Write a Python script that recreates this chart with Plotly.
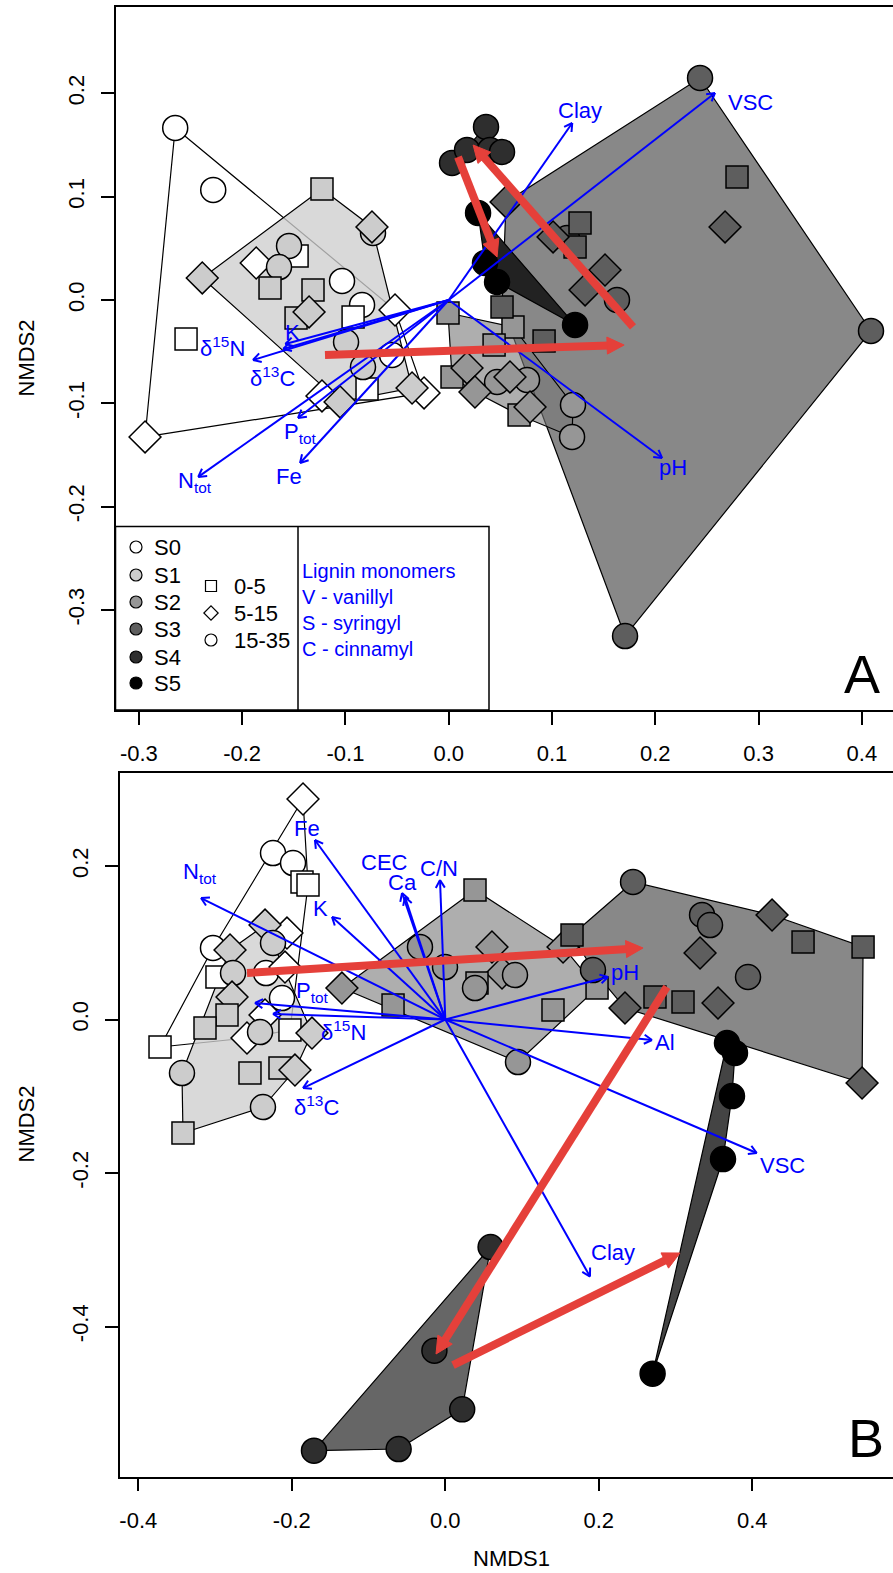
import math
import plotly.graph_objects as go

FONT = "Liberation Sans, Arial, sans-serif"
BLUE = "#0000FF"
RED = "#E5403A"

# depth classes
S, M, D = "0-5", "5-15", "15-35"
DEPTH_SYMBOL = {S: "square", M: "diamond", D: "circle"}
DEPTH_SIZE = {S: 22, M: 24.5, D: 25}
GROUPS = ["S0", "S1", "S2", "S3", "S4", "S5"]
POINT_FILL = {"S0": "#ffffff", "S1": "#cccccc", "S2": "#969696",
              "S3": "#5e5e5e", "S4": "#2e2e2e", "S5": "#000000"}

# ---------------- Panel A (lignin monomers) ----------------
A_S0_x = [-0.2648, -0.2280, -0.2543, -0.2940, -0.1864, -0.1468, -0.1033, -0.0839, -0.0926, -0.0520, -0.0549, -0.0791, -0.1227, -0.0239]
A_S0_y = [0.1665, 0.1065, -0.0378, -0.1326, 0.0358, 0.0426, 0.0184, -0.0048, -0.0165, -0.0097, -0.0532, -0.0862, -0.0929, -0.0900]
A_S0_d = [D, D, S, M, M, S, D, D, S, M, D, S, M, M]

A_S1_x = [-0.1227, -0.0733, -0.0743, -0.2386, -0.1546, -0.1643, -0.1730, -0.1314, -0.1478, -0.1352, -0.0994, -0.0830, -0.1052, -0.0355]
A_S1_y = [0.1075, 0.0649, 0.0707, 0.0213, 0.0523, 0.0319, 0.0116, 0.0097, -0.0174, -0.0116, -0.0407, -0.0649, -0.0987, -0.0852]
A_S1_d = [S, D, M, M, D, D, S, S, S, M, D, D, M, M]

A_S2_x = [-0.0007, 0.0622, 0.0439, 0.0032, 0.0681, 0.0468, 0.0758, 0.1203, 0.1194, 0.0177, 0.0254, 0.0593, 0.0787]
A_S2_y = [-0.0126, -0.0261, -0.0436, -0.0745, -0.1113, -0.0794, -0.0774, -0.1016, -0.1326, -0.0658, -0.0891, -0.0745, -0.1036]
A_S2_d = [S, S, S, S, S, D, D, D, D, M, M, M, M]

A_S3_x = [0.1145, 0.1629, 0.2433, 0.4088, 0.1707, 0.1271, 0.1223, 0.0516, 0.0923, 0.2791, 0.0555, 0.1010, 0.1513, 0.1320, 0.2675]
A_S3_y = [0.0600, 0.0000, 0.2149, -0.0300, -0.3253, 0.0745, 0.0513, -0.0068, -0.0397, 0.1191, 0.0949, 0.0610, 0.0290, 0.0097, 0.0707]
A_S3_d = [D, D, D, D, D, S, S, S, S, S, M, M, M, M, M]

A_S4_x = [0.0361, 0.0032, 0.0177, 0.0400, 0.0516]
A_S4_y = [0.1675, 0.1326, 0.1452, 0.1452, 0.1433]
A_S4_d = [D, D, D, D, D]

A_S5_x = [0.0284, 0.0351, 0.0468, 0.1223]
A_S5_y = [0.0842, 0.0358, 0.0174, -0.0242]
A_S5_d = [D, D, D, D]

A_shift_x0 = [-0.1198, 0.1784, 0.0090]
A_shift_y0 = [-0.0532, -0.0261, 0.1384]
A_shift_x1 = [0.1698, 0.0236, 0.0468]
A_shift_y1 = [-0.0436, 0.1500, 0.0416]

A_vec_labels = ["Clay", "VSC", "pH", "K", "δ<sup>13</sup>C", "δ<sup>15</sup>N", "P<sub>tot</sub>", "Fe", "N<sub>tot</sub>"]
A_vec_x = [0.1196, 0.2578, 0.2066, -0.1602, -0.1582, -0.1895, -0.1459, -0.1439, -0.2425]
A_vec_y = [0.1713, 0.2004, -0.1530, -0.0474, -0.0426, -0.0581, -0.1142, -0.1578, -0.1713]
A_lab_x = [0.1272, 0.2918, 0.2172, -0.1517, -0.1710, -0.2193, -0.1438, -0.1545, -0.2454]
A_lab_y = [0.1839, 0.1907, -0.1626, -0.0310, -0.0745, -0.0455, -0.1288, -0.1704, -0.1762]

A_XTICKS = [-0.3, -0.2, -0.1, 0.0, 0.1, 0.2, 0.3, 0.4]
A_XTICKTEXT = ["-0.3", "-0.2", "-0.1", "0.0", "0.1", "0.2", "0.3", "0.4"]
A_YTICKS = [-0.3, -0.2, -0.1, 0.0, 0.1, 0.2]
A_YTICKTEXT = ["-0.3", "-0.2", "-0.1", "0.0", "0.1", "0.2"]
A_XRANGE = [-0.3226, 0.4301]
A_YRANGE = [-0.3969, 0.2836]

# ---------------- Panel B ----------------
B_S0_x = [-0.1854, -0.2245, -0.1984, -0.1867, -0.1789, -0.3027, -0.2063, -0.2336, -0.2089, -0.2975, -0.2128, -0.2349, -0.2584, -0.2024, -0.3717]
B_S0_y = [0.2873, 0.2169, 0.2039, 0.1792, 0.1752, 0.0932, 0.1127, 0.0606, 0.0684, 0.0554, 0.0280, 0.0059, -0.0241, -0.0137, -0.0358]
B_S0_d = [M, D, D, S, S, D, M, D, M, S, D, M, M, S, S]

B_S1_x = [-0.2349, -0.2245, -0.2805, -0.2766, -0.2779, -0.2844, -0.3131, -0.2414, -0.1737, -0.2545, -0.2154, -0.1959, -0.3431, -0.2376, -0.3418]
B_S1_y = [0.1231, 0.0997, 0.0906, 0.0606, 0.0293, 0.0059, -0.0111, -0.0163, -0.0176, -0.0697, -0.0632, -0.0658, -0.0697, -0.1140, -0.1479]
B_S1_d = [M, D, M, D, M, S, S, D, M, S, S, M, D, D, S]

B_S2_x = [-0.1347, -0.0681, 0.0387, -0.0330, -0.0004, 0.0608, 0.0739, 0.0908, 0.0413, 0.0387, 0.1403, 0.1977, 0.1534, 0.0947]
B_S2_y = [0.0410, 0.0189, 0.1687, 0.0945, 0.0684, 0.0945, 0.0606, 0.0580, 0.0476, 0.0410, 0.0124, 0.0410, 0.0945, -0.0554]
B_S2_d = [M, S, S, D, D, M, M, D, S, D, S, S, M, D]

B_S3_x = [0.2446, 0.3345, 0.3449, 0.4257, 0.4661, 0.5443, 0.3319, 0.3944, 0.1651, 0.1924, 0.2341, 0.2732, 0.3097, 0.3553, 0.5430]
B_S3_y = [0.1792, 0.1362, 0.1231, 0.1362, 0.1010, 0.0945, 0.0867, 0.0554, 0.1101, 0.0645, 0.0150, 0.0293, 0.0228, 0.0215, -0.0827]
B_S3_d = [D, D, D, M, S, S, M, D, S, D, M, S, S, M, M]

B_S4_x = [0.0590, -0.0142, 0.0220, -0.0608, -0.1711]
B_S4_y = [-0.2964, -0.4315, -0.5079, -0.5596, -0.5618]
B_S4_d = [D, D, D, D, D]

B_S5_x = [0.3670, 0.3774, 0.3735, 0.3618, 0.2701]
B_S5_y = [-0.0306, -0.0436, -0.0997, -0.1818, -0.4615]
B_S5_d = [D, D, D, D, D]

B_shift_x0 = [-0.2584, 0.2887, 0.0100]
B_shift_y0 = [0.0606, 0.0424, -0.4502]
B_shift_x1 = [0.2576, -0.0121, 0.3058]
B_shift_y1 = [0.0932, -0.4358, -0.3042]

B_vec_labels = ["Fe", "N<sub>tot</sub>", "CEC", "Ca", "C/N", "K", "P<sub>tot</sub>", "δ<sup>15</sup>N", "δ<sup>13</sup>C", "pH", "Al", "VSC", "Clay"]
B_vec_x = [-0.1699, -0.3183, -0.0564, -0.0525, -0.0069, -0.1476, -0.2480, -0.2245, -0.1854, 0.2120, 0.2693, 0.4058, 0.1885]
B_vec_y = [0.2339, 0.1583, 0.1648, 0.1596, 0.1818, 0.1336, 0.0215, 0.0072, -0.0893, 0.0554, -0.0267, -0.1739, -0.3349]
B_lab_x = [-0.1802, -0.3196, -0.0786, -0.0564, -0.0082, -0.1620, -0.1724, -0.1333, -0.1672, 0.2342, 0.2863, 0.4390, 0.2185]
B_lab_y = [0.2495, 0.1909, 0.2052, 0.1779, 0.1974, 0.1453, 0.0358, -0.0150, -0.1127, 0.0619, -0.0293, -0.1896, -0.3036]

B_XTICKS = [-0.4, -0.2, 0.0, 0.2, 0.4]
B_XTICKTEXT = ["-0.4", "-0.2", "0.0", "0.2", "0.4"]
B_YTICKS = [-0.4, -0.2, 0.0, 0.2]
B_YTICKTEXT = ["-0.4", "-0.2", "0.0", "0.2"]
B_XRANGE = [-0.4245, 0.5833]
B_YRANGE = [-0.5954, 0.3212]

LEGEND_GROUPS = ["S0", "S1", "S2", "S3", "S4", "S5"]
LEGEND_DEPTHS = [S, M, D]
LIGNIN_LINES = ["Lignin monomers", "V - vanillyl", "S - syringyl", "C - cinnamyl"]

# hull fills per panel
HULL_FILL_A = {"S1": "rgba(206,206,206,0.78)", "S2": "rgba(120,120,120,0.6)",
               "S3": "#888888", "S4": "#444444", "S5": "#222222"}
HULL_FILL_B = {"S1": "rgba(206,206,206,0.78)", "S2": "rgba(120,120,120,0.6)",
               "S3": "#888888", "S4": "#666666", "S5": "#444444"}

PX_PER_UNIT_A = 1033.0
PX_PER_UNIT_B = 767.5


def convex_hull(xs, ys):
    pts = sorted(set(zip(xs, ys)))
    if len(pts) <= 2:
        return pts

    def cross(o, a, b):
        return (a[0] - o[0]) * (b[1] - o[1]) - (a[1] - o[1]) * (b[0] - o[0])

    lower = []
    for p in pts:
        while len(lower) >= 2 and cross(lower[-2], lower[-1], p) <= 0:
            lower.pop()
        lower.append(p)
    upper = []
    for p in reversed(pts):
        while len(upper) >= 2 and cross(upper[-2], upper[-1], p) <= 0:
            upper.pop()
        upper.append(p)
    return lower[:-1] + upper[:-1]


fig = go.Figure()


def add_panel(xa, ya, groups, hull_fill, vec_x, vec_y, labels, lab_x, lab_y,
              sx0, sy0, sx1, sy1, ppu):
    # S0 hull: outline only
    h = convex_hull(*groups["S0"][:2])
    fig.add_trace(go.Scatter(x=[p[0] for p in h] + [h[0][0]], y=[p[1] for p in h] + [h[0][1]],
                             mode="lines", line=dict(color="black", width=1.2),
                             hoverinfo="skip", xaxis=xa, yaxis=ya))
    for g in ["S3", "S5", "S4", "S1", "S2"]:
        h = convex_hull(*groups[g][:2])
        fig.add_trace(go.Scatter(x=[p[0] for p in h] + [h[0][0]], y=[p[1] for p in h] + [h[0][1]],
                                 mode="lines", fill="toself", fillcolor=hull_fill[g],
                                 line=dict(color="black", width=1.2),
                                 hoverinfo="skip", xaxis=xa, yaxis=ya))
    # points
    for g in GROUPS:
        xs, ys, ds = groups[g]
        fig.add_trace(go.Scatter(
            x=xs, y=ys, mode="markers",
            marker=dict(symbol=[DEPTH_SYMBOL[d] for d in ds], size=[DEPTH_SIZE[d] for d in ds],
                        color=POINT_FILL[g], opacity=1, line=dict(color="black", width=1.5)),
            hoverinfo="skip", xaxis=xa, yaxis=ya))
    # environmental vectors (blue) with open heads
    L = 9.0 / ppu
    ang = math.radians(30)
    bx, by = [], []
    for vx, vy in zip(vec_x, vec_y):
        bx += [0.0, vx, None]
        by += [0.0, vy, None]
        th = math.atan2(vy, vx)
        for s in (1, -1):
            a = th + math.pi + s * ang
            bx += [vx, vx + L * math.cos(a), None]
            by += [vy, vy + L * math.sin(a), None]
    fig.add_trace(go.Scatter(x=bx, y=by, mode="lines", line=dict(color=BLUE, width=2),
                             hoverinfo="skip", xaxis=xa, yaxis=ya))
    for t, lx, ly in zip(labels, lab_x, lab_y):
        fig.add_annotation(x=lx, y=ly, xref=xa, yref=ya, text=t, showarrow=False,
                           font=dict(family=FONT, size=22, color=BLUE),
                           xanchor="center", yanchor="middle")
    # red shift arrows
    HL = 17.0 / ppu
    HW = 8.5 / ppu
    rx, ry, hx, hy = [], [], [], []
    for x0, y0, x1, y1 in zip(sx0, sy0, sx1, sy1):
        dx, dy = x1 - x0, y1 - y0
        n = math.hypot(dx, dy)
        ux, uy = dx / n, dy / n
        bxp, byp = x1 - ux * HL, y1 - uy * HL
        rx += [x0, bxp + ux * 2 / ppu, None]
        ry += [y0, byp + uy * 2 / ppu, None]
        hx += [x1, bxp - uy * HW, bxp + uy * HW, x1, None]
        hy += [y1, byp + ux * HW, byp - ux * HW, y1, None]
    fig.add_trace(go.Scatter(x=rx, y=ry, mode="lines", line=dict(color=RED, width=8),
                             hoverinfo="skip", xaxis=xa, yaxis=ya))
    fig.add_trace(go.Scatter(x=hx, y=hy, mode="lines", fill="toself", fillcolor=RED,
                             line=dict(color=RED, width=1), hoverinfo="skip", xaxis=xa, yaxis=ya))


groups_A = {"S0": (A_S0_x, A_S0_y, A_S0_d), "S1": (A_S1_x, A_S1_y, A_S1_d),
            "S2": (A_S2_x, A_S2_y, A_S2_d), "S3": (A_S3_x, A_S3_y, A_S3_d),
            "S4": (A_S4_x, A_S4_y, A_S4_d), "S5": (A_S5_x, A_S5_y, A_S5_d)}
groups_B = {"S0": (B_S0_x, B_S0_y, B_S0_d), "S1": (B_S1_x, B_S1_y, B_S1_d),
            "S2": (B_S2_x, B_S2_y, B_S2_d), "S3": (B_S3_x, B_S3_y, B_S3_d),
            "S4": (B_S4_x, B_S4_y, B_S4_d), "S5": (B_S5_x, B_S5_y, B_S5_d)}

add_panel("x", "y", groups_A, HULL_FILL_A, A_vec_x, A_vec_y, A_vec_labels, A_lab_x, A_lab_y,
          A_shift_x0, A_shift_y0, A_shift_x1, A_shift_y1, PX_PER_UNIT_A)
add_panel("x2", "y2", groups_B, HULL_FILL_B, B_vec_x, B_vec_y, B_vec_labels, B_lab_x, B_lab_y,
          B_shift_x0, B_shift_y0, B_shift_x1, B_shift_y1, PX_PER_UNIT_B)

# ---------- legend (pixel overlay axes x3/y3) ----------
LEG_GROUP_X = 136
LEG_GROUP_Y = [547, 575, 602, 629, 657, 683]
LEG_DEPTH_X = 211
LEG_DEPTH_Y = [586, 613, 640]
fig.add_trace(go.Scatter(x=[LEG_GROUP_X] * 6, y=LEG_GROUP_Y, mode="markers",
                         marker=dict(symbol="circle", size=12, color=[POINT_FILL[g] for g in LEGEND_GROUPS],
                                     opacity=1, line=dict(color="black", width=1.2)),
                         hoverinfo="skip", xaxis="x3", yaxis="y3"))
fig.add_trace(go.Scatter(x=[LEG_DEPTH_X] * 3, y=LEG_DEPTH_Y, mode="markers",
                         marker=dict(symbol=[DEPTH_SYMBOL[d] for d in LEGEND_DEPTHS], size=[11, 11, 12],
                                     color="white", opacity=1, line=dict(color="black", width=1.2)),
                         hoverinfo="skip", xaxis="x3", yaxis="y3"))
for g, yy in zip(LEGEND_GROUPS, LEG_GROUP_Y):
    fig.add_annotation(x=152, y=yy, xref="x3", yref="y3", text=g, showarrow=False, xanchor="left",
                       yanchor="middle", font=dict(family=FONT, size=22, color="black"))
for d, yy in zip(LEGEND_DEPTHS, LEG_DEPTH_Y):
    fig.add_annotation(x=232, y=yy, xref="x3", yref="y3", text=d, showarrow=False, xanchor="left",
                       yanchor="middle", font=dict(family=FONT, size=22, color="black"))
for i, t in enumerate(LIGNIN_LINES):
    fig.add_annotation(x=300, y=571 + 26 * i, xref="x3", yref="y3", text=t, showarrow=False,
                       xanchor="left", yanchor="middle", font=dict(family=FONT, size=20, color=BLUE))
fig.add_shape(type="rect", x0=115.5, x1=489, y0=526.5, y1=710, xref="x3", yref="y3",
              line=dict(color="black", width=1.5))
fig.add_shape(type="line", x0=298, x1=298, y0=526.5, y1=710, xref="x3", yref="y3",
              line=dict(color="black", width=1.5))

# panel letters and axis titles
fig.add_annotation(x=862, y=674, xref="x3", yref="y3", text="A", showarrow=False,
                   font=dict(family=FONT, size=54, color="black"))
fig.add_annotation(x=866, y=1438, xref="x3", yref="y3", text="B", showarrow=False,
                   font=dict(family=FONT, size=54, color="black"))
for yy in (358.5, 1124.5):
    fig.add_annotation(x=26, y=yy, xref="x3", yref="y3", text="NMDS2", textangle=-90, showarrow=False,
                       font=dict(family=FONT, size=22, color="black"))
fig.add_annotation(x=511, y=1558, xref="x3", yref="y3", text="NMDS1", showarrow=False,
                   font=dict(family=FONT, size=22, color="black"))

W, H = 893, 1573
common = dict(showgrid=False, zeroline=False, showline=True, linecolor="black", linewidth=1.5,
              ticks="outside", ticklen=13, tickwidth=1.5, tickcolor="black",
              tickfont=dict(family=FONT, size=22, color="black"))

fig.update_layout(
    width=W, height=H, margin=dict(l=0, r=0, t=0, b=0),
    paper_bgcolor="white", plot_bgcolor="rgba(0,0,0,0)", showlegend=False,
    xaxis=dict(domain=[115.5 / W, 1.0], range=A_XRANGE, anchor="y", mirror=True,
               tickvals=A_XTICKS, ticktext=A_XTICKTEXT, ticklabelstandoff=10, **common),
    yaxis=dict(domain=[1 - 710 / H, 1 - 7 / H], range=A_YRANGE, anchor="x", mirror=False,
               tickvals=A_YTICKS, ticktext=A_YTICKTEXT, tickangle=-90, ticklabelstandoff=8, **common),
    xaxis2=dict(domain=[119.5 / W, 1.0], range=B_XRANGE, anchor="y2", mirror=True,
                tickvals=B_XTICKS, ticktext=B_XTICKTEXT, ticklabelstandoff=10, **common),
    yaxis2=dict(domain=[1 - 1476.5 / H, 1 - 773 / H], range=B_YRANGE, anchor="x2", mirror=False,
                tickvals=B_YTICKS, ticktext=B_YTICKTEXT, tickangle=-90, ticklabelstandoff=8, **common),
    xaxis3=dict(domain=[0, 1], range=[0, W], visible=False, anchor="y3", fixedrange=True),
    yaxis3=dict(domain=[0, 1], range=[H, 0], visible=False, anchor="x3", fixedrange=True),
)

fig.write_html("out.html", config={"displayModeBar": False},
               post_script="document.body.style.margin='0px';")
